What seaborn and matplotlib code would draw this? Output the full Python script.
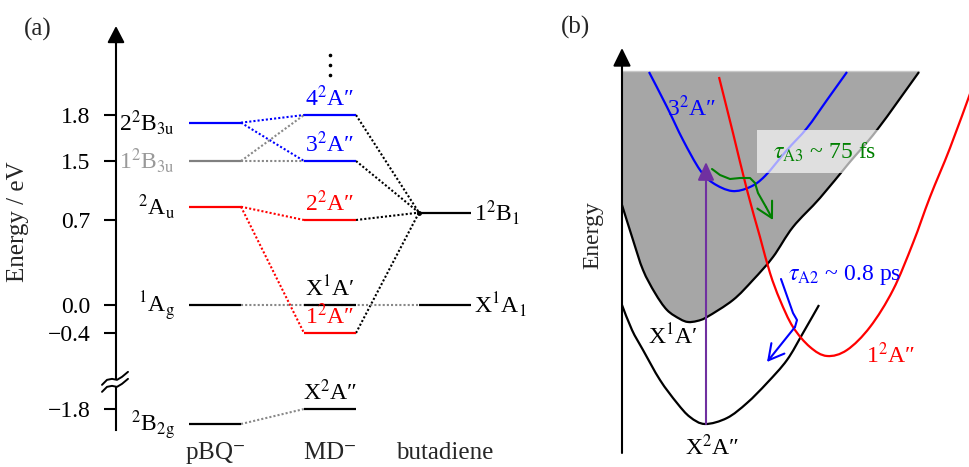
import numpy as np
import pandas as pd
import matplotlib
matplotlib.use("Agg")
import matplotlib.pyplot as plt
from matplotlib.patches import Rectangle, Polygon, PathPatch
from matplotlib.path import Path
import seaborn as sns

# ---------------- panel (a): energy levels (eV) ----------------
tick_energy = [1.8, 1.5, 0.7, 0.0, -0.4, -1.8]
tick_labels = ["1.8", "1.5", "0.7", "0.0", "\u22120.4", "\u22121.8"]

column_names = [r"pBQ$^{-}$", r"MD$^{-}$", "butadiene"]

pbq_states = [r"2$^2$B$_{3\mathrm{u}}$", r"1$^2$B$_{3\mathrm{u}}$", r"$^2$A$_{\mathrm{u}}$",
              r"$^1$A$_{\mathrm{g}}$", r"$^2$B$_{2\mathrm{g}}$"]
pbq_energy = [1.75, 1.5, 0.88, 0.0, -1.95]
pbq_line_colors = ["blue", "gray", "red", "black", "black"]
pbq_text_colors = ["black", "#999999", "black", "black", "black"]

md_states = ["4$^2$A\u2033", "3$^2$A\u2033", "2$^2$A\u2033", "X$^1$A\u2032", "1$^2$A\u2033", "X$^2$A\u2033"]
md_energy = [1.8, 1.5, 0.7, 0.0, -0.4, -1.8]
md_colors = ["blue", "blue", "red", "black", "red", "black"]

but_states = [r"1$^2$B$_1$", r"X$^1$A$_1$"]
but_energy = [0.8, 0.0]

# correlation lines (pBQ index -> MD index, colour)
pbq_md_links = [(0, 0, "blue"), (0, 1, "blue"), (1, 1, "#888888"), (1, 0, "#888888"),
                (2, 2, "red"), (2, 4, "red"), (4, 5, "#888888")]
# MD index -> butadiene index
md_but_links = [(0, 0), (1, 0), (2, 0), (4, 0)]
# pBQ index -> butadiene index (straight through)
pbq_but_links = [(3, 1)]

break_energy = -1.3

# ---------------- panel (b): schematic potential curves ----------------
x1a_q = [0.0, 1.1, 2.1, 3.3, 4.5, 5.8, 6.6, 7.5, 8.5, 11.1, 13.1, 15.1, 17.1, 19.8, 22.7, 25.5, 29.7]
x1a_e = [24.8, 21.3, 18.3, 16.0, 14.3, 13.4, 13.1, 13.2, 13.6, 15.3, 17.3, 19.6, 22.6, 25.5, 29.0, 32.3, 38.1]
continuum_top = 38.2

x2a_q = [0.0, 1.0, 2.1, 3.8, 5.5, 6.8, 8.3, 10.5, 12.5, 14.5, 16.5, 18.1, 19.7]
x2a_e = [14.8, 12.3, 10.3, 7.3, 5.0, 3.6, 2.9, 3.5, 5.0, 7.0, 9.3, 12.0, 14.8]

a3_q = [2.7, 4.5, 6.1, 7.8, 9.1, 11.0, 12.8, 14.3, 16.5, 18.5, 20.5, 22.5]
a3_e = [38.1, 34.6, 31.3, 28.3, 27.0, 26.2, 26.6, 27.7, 30.3, 32.5, 35.3, 38.1]

a1_q = [9.7, 11.1, 12.5, 13.8, 14.8, 15.8, 17.1, 18.8, 20.5, 22.5, 24.8, 27.1, 29.1, 30.8, 32.8, 34.9]
a1_e = [37.6, 32.0, 26.3, 21.6, 18.0, 15.3, 12.6, 10.6, 9.7, 10.3, 12.6, 16.3, 21.0, 25.6, 30.5, 36.2]

excite_q = 8.4
excite_e = [2.9, 29.1]

green_q = [9.0, 9.8, 10.8, 11.8, 12.8, 13.3, 13.6, 14.4, 15.1]
green_e = [28.4, 27.8, 27.4, 27.5, 27.5, 27.0, 26.0, 24.6, 23.3]

blue_q = [15.9, 17.1, 17.5, 17.3, 14.5]
blue_e = [17.4, 14.0, 13.3, 12.6, 9.1]

# ---------------- style ----------------
sns.set_style("white")
plt.rcParams["font.family"] = ["Liberation Serif", "STIXGeneral", "DejaVu Serif"]
plt.rcParams["mathtext.fontset"] = "stix"
FS = 17

fig = plt.figure(figsize=(9.69, 4.67), dpi=100)
axa = fig.add_axes([0, 0, 540 / 969, 1])
axb = fig.add_axes([540 / 969, 0, 429 / 969, 1])

# non-linear (schematic) energy axis
scale_E = [-2.5, -1.8, -0.4, 0.0, 0.7, 1.5, 1.8, 2.6]
scale_pos = [-12, 58, 134, 162, 247, 306, 352, 474]


def fwd(e):
    return np.interp(e, scale_E, scale_pos)


def inv(p):
    return np.interp(p, scale_pos, scale_E)


def pix_e(py):
    return float(inv(467 - py))


def pix_x(px):
    return (px - 215) / 115


def smooth_path(xs, ys):
    # bezier path through the read points (Catmull-Rom tangents)
    p = np.column_stack([xs, ys])
    ext = np.vstack([p[0], p, p[-1]])
    verts, codes = [tuple(p[0])], [Path.MOVETO]
    for i in range(len(p) - 1):
        p0, p1, p2, p3 = ext[i], ext[i + 1], ext[i + 2], ext[i + 3]
        verts += [tuple(p1 + (p2 - p0) / 6), tuple(p2 - (p3 - p1) / 6), tuple(p2)]
        codes += [Path.CURVE4] * 3
    return verts, codes


axa.set_yscale("function", functions=(fwd, inv))
axa.set_ylim(pix_e(467), pix_e(0))
axa.set_xlim(pix_x(0), pix_x(540))
hw = 26 / 115
axis_x = pix_x(116)

for sp in ["top", "right", "bottom"]:
    axa.spines[sp].set_visible(False)
axa.spines["left"].set_position(("data", axis_x))
axa.spines["left"].set_bounds(pix_e(430), pix_e(40))
axa.spines["left"].set_linewidth(1.5)
axa.spines["left"].set_color("black")
axa.set_xticks([])
axa.set_yticks(tick_energy, tick_labels)
axa.tick_params(axis="y", direction="out", length=8.6, width=1.5, labelsize=FS, pad=10,
                left=True, colors="black")
axa.annotate("", xy=(axis_x, pix_e(26)), xytext=(axis_x, pix_e(44)),
             arrowprops=dict(arrowstyle="-|>,head_length=10,head_width=5.2", mutation_scale=1,
                             color="black", lw=1.5, shrinkA=0, shrinkB=0))

# axis break
by = 467 - fwd(break_energy)
up_px = [(102, 3), (107, -2), (112, -3), (117, -2), (122, -5), (128, -10)]
lo_px = [(px, dy + 7) for px, dy in up_px]
gap = [(pix_x(px), pix_e(by + dy)) for px, dy in up_px[1:5]] + \
      [(pix_x(px), pix_e(by + dy)) for px, dy in lo_px[4:0:-1]]
axa.add_patch(Polygon(gap, closed=True, facecolor="white", edgecolor="none", zorder=5))
for stroke in (up_px, lo_px):
    axa.plot([pix_x(px) for px, _ in stroke], [pix_e(by + dy) for _, dy in stroke],
             color="black", lw=1.4, zorder=6, solid_capstyle="round")

# correlation lines
rows = []
for n, (i, j, c) in enumerate(pbq_md_links):
    rows += [(f"a{n}", 0 + hw, pbq_energy[i], c), (f"a{n}", 1 - hw, md_energy[j], c)]
for n, (i, j) in enumerate(md_but_links):
    rows += [(f"b{n}", 1 + hw, md_energy[i], "black"), (f"b{n}", 2 - hw, but_energy[j], "black")]
for n, (i, j) in enumerate(pbq_but_links):
    rows += [(f"c{n}", 0 + hw, pbq_energy[i], "#888888"), (f"c{n}", 2 - hw, but_energy[j], "#888888")]
links = pd.DataFrame(rows, columns=["link", "x", "e", "color"])
link_pal = dict(zip(links["link"], links["color"]))
sns.lineplot(data=links, x="x", y="e", hue="link", palette=link_pal, estimator=None,
             sort=False, legend=False, ax=axa, lw=1.5, linestyle=(0, (1, 1)))
axa.set_xlabel("")
axa.set_ylabel("")

axa.hlines(pbq_energy, 0 - hw, 0 + hw, colors=pbq_line_colors, lw=1.6, zorder=3)
axa.hlines(md_energy, 1 - hw, 1 + hw, colors=md_colors, lw=1.6, zorder=3)
axa.hlines(but_energy, 2 - hw, 2 + hw, colors="black", lw=1.6, zorder=3)
axa.plot([2 - hw], [but_energy[0]], "o", color="black", ms=2.5, zorder=4)

for lab, e, c in zip(pbq_states, pbq_energy, pbq_text_colors):
    axa.annotate(lab, xy=(0 - hw, e), xytext=(-10, -5.6), textcoords="offset points",
                 ha="right", va="baseline", fontsize=FS, color=c)
for lab, e, c in zip(md_states, md_energy, md_colors):
    axa.annotate(lab, xy=(1, e), xytext=(0, 6), textcoords="offset points",
                 ha="center", va="baseline", fontsize=FS, color=c)
for lab, e in zip(but_states, but_energy):
    axa.annotate(lab, xy=(2 + hw, e), xytext=(2, -5.6), textcoords="offset points",
                 ha="left", va="baseline", fontsize=FS, color="black")
for k, name in enumerate(column_names):
    axa.text(k, pix_e(459), name, ha="center", va="baseline", fontsize=18)
axa.plot([1, 1, 1], [pix_e(55), pix_e(65), pix_e(75)], "o", color="black", ms=1.6)

# ---------------- panel (b) ----------------
axb.set_xlim(-8.2, 34.7)
axb.set_ylim(-1.4, 45.3)
axb.axis("off")

axb.annotate("", xy=(0, 40.5), xytext=(0, 0),
             arrowprops=dict(arrowstyle="-|>,head_length=11,head_width=5.4", mutation_scale=1,
                             color="black", lw=1.5, shrinkA=0, shrinkB=0), zorder=6)

# continuum above the neutral ground state
v, c = smooth_path(x1a_q, x1a_e)
v += [(x1a_q[-1], continuum_top), (0, continuum_top), (0, 0)]
c += [Path.LINETO, Path.LINETO, Path.CLOSEPOLY]
axb.add_patch(PathPatch(Path(v, c), facecolor="#a6a6a6", edgecolor="none", zorder=1))
axb.plot([0, x1a_q[-1]], [continuum_top, continuum_top], color="#c8c8c8", lw=1, zorder=1)

for qs, es, col in [(x1a_q, x1a_e, "black"), (x2a_q, x2a_e, "black"),
                    (a3_q, a3_e, "blue"), (a1_q, a1_e, "red")]:
    v, c = smooth_path(qs, es)
    axb.add_patch(PathPatch(Path(v, c), facecolor="none", edgecolor=col, lw=1.6, zorder=2))

# excitation
axb.annotate("", xy=(excite_q, excite_e[1]), xytext=(excite_q, excite_e[0]),
             arrowprops=dict(arrowstyle="-|>,head_length=11,head_width=5", mutation_scale=1,
                             color="#7030a0", lw=1.5, shrinkA=0, shrinkB=0), zorder=3)

# relaxation arrows
relax = pd.DataFrame({"q": green_q[:-1] + blue_q[:-1], "e": green_e[:-1] + blue_e[:-1],
                      "path": ["A3"] * (len(green_q) - 1) + ["A2"] * (len(blue_q) - 1)})
sns.lineplot(data=relax, x="q", y="e", hue="path", palette={"A3": "green", "A2": "blue"},
             estimator=None, sort=False, legend=False, lw=1.5, ax=axb, zorder=3)
for qs, es, col in [(green_q, green_e, "green"), (blue_q, blue_e, "blue")]:
    axb.annotate("", xy=(qs[-1], es[-1]), xytext=(qs[-2], es[-2]),
                 arrowprops=dict(arrowstyle="->,head_length=11,head_width=6", mutation_scale=1,
                                 color=col, lw=1.5, shrinkA=0, shrinkB=0), zorder=3)
axb.set_xlabel("")
axb.set_ylabel("")

axb.add_patch(Rectangle((13.5, 28.0), 13.6, 4.3, facecolor="white", alpha=0.65,
                        edgecolor="none", zorder=4))
axb.text(20.3, 30.1, r"$\tau_{\mathrm{A3}}$ ~ 75 fs", color="green", fontsize=FS,
         ha="center", va="center", zorder=5)
axb.text(16.6, 17.8, r"$\tau_{\mathrm{A2}}$ ~ 0.8 ps", color="blue", fontsize=FS,
         ha="left", va="center", zorder=5)

axb.text(7.0, 34.5, "3$^2$A\u2033", color="blue", fontsize=FS, ha="center", va="center", zorder=5)
axb.text(5.1, 11.6, "X$^1$A\u2032", color="black", fontsize=FS, ha="center", va="center")
axb.text(9.0, 0.6, "X$^2$A\u2033", color="black", fontsize=FS, ha="center", va="center")
axb.text(26.9, 9.8, "1$^2$A\u2033", color="red", fontsize=FS, ha="center", va="center")
axb.text(-2.9, 21.8, "Energy", rotation=90, fontsize=FS, ha="center", va="center")

fig.text(38 / 969, 1 - 29 / 467, "(a)", fontsize=18, ha="center", va="center")
fig.text(575 / 969, 1 - 27 / 467, "(b)", fontsize=18, ha="center", va="center")
fig.text(18 / 969, 1 - 222 / 467, "Energy / eV", rotation=90, fontsize=18, ha="center", va="center")

fig.savefig("out.png", dpi=100)
